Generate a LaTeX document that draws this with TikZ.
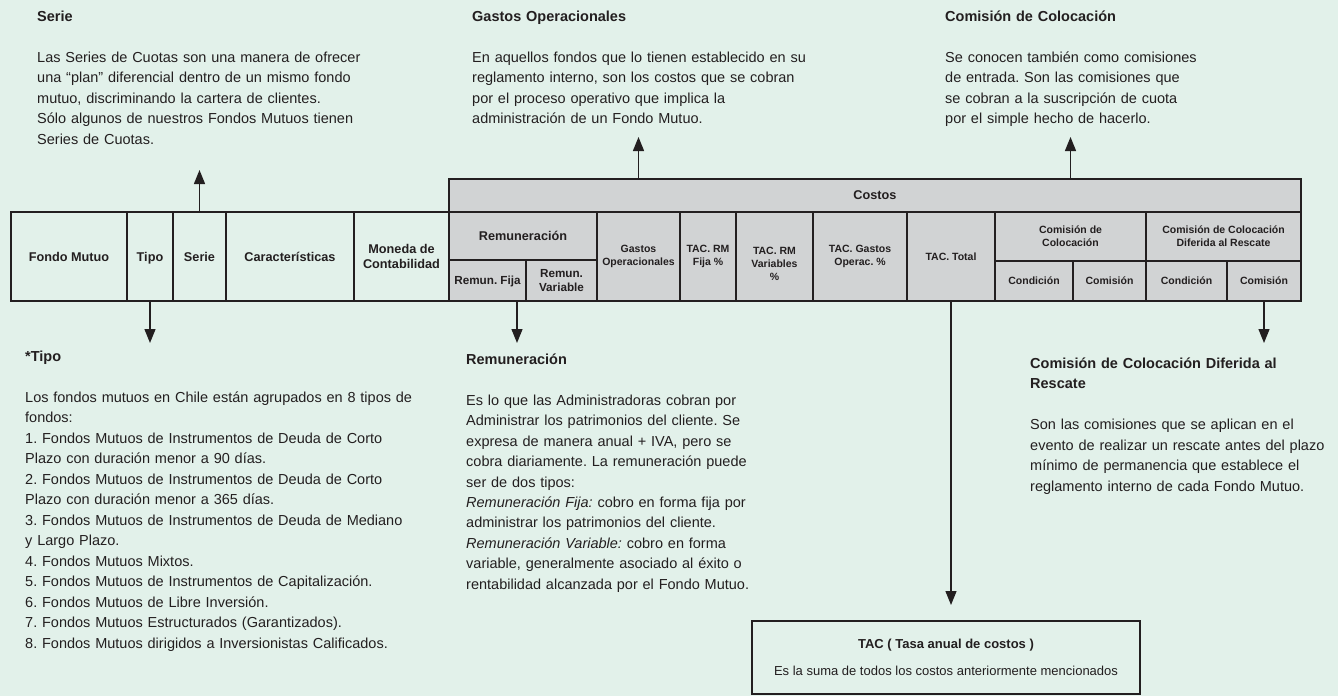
\documentclass[tikz,border=0pt]{standalone}
\usepackage{fontspec}
\setmainfont{Liberation Sans}
\usetikzlibrary{arrows.meta}
\definecolor{bg}{RGB}{226,241,234}
\definecolor{cellgray}{RGB}{209,211,212}
\definecolor{ink}{RGB}{35,31,32}
\AtBeginDocument{\frenchspacing}
\begin{document}
\begin{tikzpicture}[x=1pt,y=-1pt,
  cell/.style={draw=ink, line width=1.4pt, inner sep=0pt, align=center, text=ink,
    font=\bfseries\fontsize{12.7}{15}\selectfont},
  gcell/.style={cell, fill=cellgray},
  small/.style={font=\bfseries\fontsize{10.5}{13}\selectfont},
  mid/.style={font=\bfseries\fontsize{11.7}{14}\selectfont},
  blk/.style={anchor=base west, inner sep=0pt, text width=400pt, align=left, text=ink,
    font=\fontsize{14.5}{20.4}\selectfont},
  arr/.style={draw=ink, line width=1.3pt, -{Triangle[width=11pt,length=14pt]}}]
\fill[bg] (0,0) rectangle (1338,696);
\useasboundingbox (0,0) rectangle (1338,696);

% left part of the table
\node[cell, minimum width=116, minimum height=89] (fondo) at (69,256.5) {Fondo Mutuo};
\node[cell, minimum width=46, minimum height=89] (tipo) at (150,256.5) {\raisebox{0pt}[\height][0pt]{Tipo}};
\node[cell, minimum width=53, minimum height=89] (serie) at (199.5,256.5) {Serie};
\node[cell, minimum width=128, minimum height=89] (caract) at (290,256.5) {Características};
\node[cell, minimum width=95, minimum height=89] (moneda) at (401.5,256.5) {Moneda de\\Contabilidad};

% costos part
\node[gcell, minimum width=852, minimum height=33] (costos) at (875,195.5) {Costos};
\node[gcell, minimum width=148, minimum height=48] (remun) at (523,236) {Remuneración};
\node[gcell, mid, minimum width=77, minimum height=41] (remfija) at (487.5,280.5) {\raisebox{0pt}[\height][0pt]{Remun. Fija}};
\node[gcell, mid, minimum width=71, minimum height=41] (remvar) at (561.5,280.5) {Remun.\\Variable};
\node[gcell, small, minimum width=83, minimum height=89] (gastos) at (638.5,256.5) {Gastos\\Operacionales};
\node[gcell, small, minimum width=56, minimum height=89] (tacfija) at (708,256.5) {TAC. RM\\Fija \%};
\node[gcell, small, minimum width=77, minimum height=89] (tacvar) at (774.5,256.5) {\rule{0pt}{21.6pt}TAC. RM\\Variables\\\%};
\node[gcell, small, minimum width=94, minimum height=89] (tacgastos) at (860,256.5) {TAC. Gastos\\Operac. \%};
\node[gcell, small, minimum width=88, minimum height=89] (tactotal) at (951,256.5) {TAC. Total};
\node[gcell, small, minimum width=151, minimum height=49] (comcol) at (1070.5,236.5) {Comisión de\\Colocación};
\node[gcell, small, minimum width=78, minimum height=40] (cond1) at (1034,281) {Condición};
\node[gcell, small, minimum width=73, minimum height=40] (com1) at (1109.5,281) {Comisión};
\node[gcell, small, minimum width=155, minimum height=49] (comdif) at (1223.5,236.5) {Comisión de Colocación\\Diferida al Rescate};
\node[gcell, small, minimum width=81, minimum height=40] (cond2) at (1186.5,281) {Condición};
\node[gcell, small, minimum width=74, minimum height=40] (com2) at (1264,281) {Comisión};

% text blocks
\node[blk] (serietxt) at (37,21) {{\bfseries Serie}\\[21pt]
Las Series de Cuotas son una manera de ofrecer\\
una “plan” diferencial dentro de un mismo fondo\\
mutuo, discriminando la cartera de clientes.\\
Sólo algunos de nuestros Fondos Mutuos tienen\\
Series de Cuotas.};

\node[blk] (gastostxt) at (472,21) {{\bfseries Gastos Operacionales}\\[21pt]
En aquellos fondos que lo tienen establecido en su\\
reglamento interno, son los costos que se cobran\\
por el proceso operativo que implica la\\
administración de un Fondo Mutuo.};

\node[blk] (comcoltxt) at (945,21) {{\bfseries Comisión de Colocación}\\[21pt]
Se conocen también como comisiones\\
de entrada. Son las comisiones que\\
se cobran a la suscripción de cuota\\
por el simple hecho de hacerlo.};

\node[blk, font=\fontsize{14.5}{20.5}\selectfont] (tipotxt) at (25,361) {{\bfseries *Tipo}\\[20.5pt]
Los fondos mutuos en Chile están agrupados en 8 tipos de\\
fondos:\\
1. Fondos Mutuos de Instrumentos de Deuda de Corto\\
Plazo con duración menor a 90 días.\\
2. Fondos Mutuos de Instrumentos de Deuda de Corto\\
Plazo con duración menor a 365 días.\\
3. Fondos Mutuos de Instrumentos de Deuda de Mediano\\
y Largo Plazo.\\
4. Fondos Mutuos Mixtos.\\
5. Fondos Mutuos de Instrumentos de Capitalización.\\
6. Fondos Mutuos de Libre Inversión.\\
7. Fondos Mutuos Estructurados (Garantizados).\\
8. Fondos Mutuos dirigidos a Inversionistas Calificados.};

\node[blk] (remuntxt) at (466,364) {{\bfseries Remuneración}\\[21pt]
Es lo que las Administradoras cobran por\\
Administrar los patrimonios del cliente. Se\\
expresa de manera anual + IVA, pero se\\
cobra diariamente. La remuneración puede\\
ser de dos tipos:\\
\textit{Remuneración Fija:} cobro en forma fija por\\
administrar los patrimonios del cliente.\\
\textit{Remuneración Variable:} cobro en forma\\
variable, generalmente asociado al éxito o\\
rentabilidad alcanzada por el Fondo Mutuo.};

\node[blk] (comdiftxt) at (1030,368) {{\bfseries Comisión de Colocación Diferida al}\\
{\bfseries Rescate}\\[21pt]
Son las comisiones que se aplican en el\\
evento de realizar un rescate antes del plazo\\
mínimo de permanencia que establece el\\
reglamento interno de cada Fondo Mutuo.};

% TAC box
\node[draw=ink, line width=1.4pt, minimum width=388, minimum height=73, inner sep=0pt,
  align=center, text=ink, font=\fontsize{13}{16}\selectfont] (tacbox) at (946,657.5)
  {{\bfseries TAC ( Tasa anual de costos )}\\[11pt]
   Es la suma de todos los costos anteriormente mencionados};

% arrow ends
\coordinate (serieend) at (199.5,170);
\coordinate (gastosend) at (638.5,137);
\coordinate (comcolend) at (1070.5,137);
\coordinate (tipoend) at (150,343);
\coordinate (remstart) at (517,301);
\coordinate (remend) at (517,343);
\coordinate (tacend) at (951,605);
\coordinate (comdifend) at (1264,343);

\draw[arr] (serie.north) -- (serieend);
\draw[arr] (gastos.north |- costos.north) -- (gastosend);
\draw[arr] (comcol.north |- costos.north) -- (comcolend);
\draw[arr] (tipo.south) -- (tipoend);
\draw[arr] (remstart) -- (remend);
\draw[arr] (tactotal.south) -- (tacend);
\draw[arr] (com2.south) -- (comdifend);
\end{tikzpicture}
\end{document}
